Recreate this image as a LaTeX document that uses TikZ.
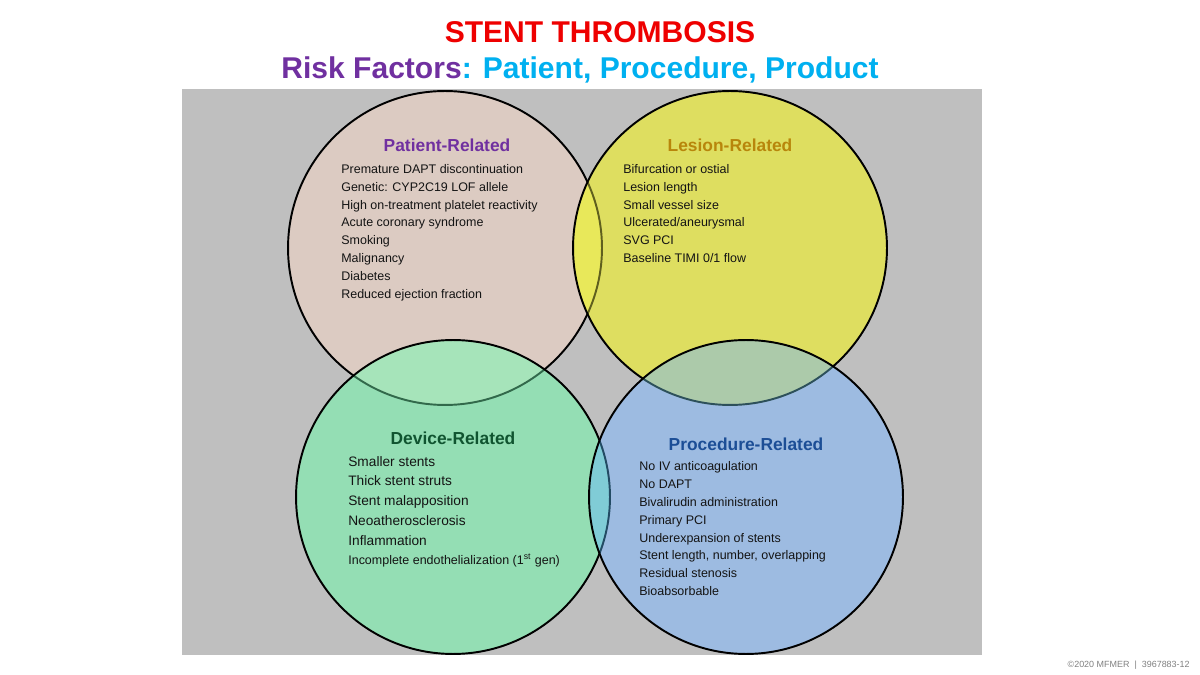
\documentclass[tikz,border=0pt]{standalone}
\usepackage{fontspec}
\setmainfont{Liberation Sans}
\usepackage{xcolor}
\definecolor{bgray}{RGB}{191,191,191}
\definecolor{patfill}{RGB}{220,203,194}
\definecolor{lesfill}{RGB}{222,222,96}
\definecolor{devfill}{RGB}{148,222,180}
\definecolor{profill}{RGB}{157,187,225}
\definecolor{patles}{RGB}{232,232,90}
\definecolor{patdev}{RGB}{166,228,186}
\definecolor{lespro}{RGB}{172,202,170}
\definecolor{devpro}{RGB}{128,204,214}
\definecolor{dimolive}{RGB}{95,95,30}
\definecolor{dimgreen}{RGB}{50,105,75}
\definecolor{dimteal}{RGB}{45,80,90}
\definecolor{dimblue}{RGB}{35,75,100}
\definecolor{titlered}{RGB}{238,0,0}
\definecolor{riskpurple}{RGB}{112,48,160}
\definecolor{cyanblue}{RGB}{0,176,240}
\definecolor{lesgold}{RGB}{184,134,11}
\definecolor{devgreen}{RGB}{16,84,48}
\definecolor{problue}{RGB}{28,78,150}
\definecolor{txt}{RGB}{20,20,20}
\usepackage{tikz}
\usetikzlibrary{positioning}

\begin{document}
\begin{tikzpicture}[x=0.02cm, y=-0.02cm,
    every circle/.style={radius=3.14cm},
    outline/.style={line width=1.1pt},
    heading/.style={anchor=base, inner sep=0pt, font=\fontsize{9.9}{12}\selectfont\bfseries},
    item/.style={anchor=base west, inner sep=0pt, text=txt, font=\fontsize{7.1}{8.5}\selectfont},
    bigitem/.style={item, font=\fontsize{7.8}{9.5}\selectfont}]
        \useasboundingbox (0,0) rectangle (1200,675);

        % Titles
        \node[anchor=base, text=titlered, font=\fontsize{17.1}{20}\selectfont\bfseries] (title) at (600,43) {STENT THROMBOSIS};
        \node[anchor=base, text=cyanblue, font=\fontsize{17.1}{20}\selectfont\bfseries] (subtitle) at (580,79)
            {\textcolor{riskpurple}{Risk Factors}: Patient, Procedure, Product};

        % Background panel
        \fill[bgray] (182,89) rectangle (982,655);

        % Circle centres
        \coordinate (pat) at (445,248);
        \coordinate (les) at (730,248);
        \coordinate (dev) at (453,497);
        \coordinate (pro) at (746,497);

        % Patient circle
        \fill[patfill] (pat) circle;
        \draw[outline] (pat) circle;

        % Lesion circle, over patient
        \fill[lesfill] (les) circle;
        \begin{scope}
            \clip (pat) circle;
            \fill[patles] (les) circle;
        \end{scope}
        \begin{scope}
            \clip (les) circle;
            \draw[outline, dimolive] (pat) circle;
        \end{scope}
        \draw[outline] (les) circle;

        % Device circle, over patient
        \fill[devfill] (dev) circle;
        \begin{scope}
            \clip (pat) circle;
            \fill[patdev] (dev) circle;
        \end{scope}
        \begin{scope}
            \clip (dev) circle;
            \draw[outline, dimgreen] (pat) circle;
        \end{scope}
        \draw[outline] (dev) circle;

        % Procedure circle, over lesion and device
        \fill[profill] (pro) circle;
        \begin{scope}
            \clip (les) circle;
            \fill[lespro] (pro) circle;
        \end{scope}
        \begin{scope}
            \clip (dev) circle;
            \fill[devpro] (pro) circle;
        \end{scope}
        \begin{scope}
            \clip (pro) circle;
            \draw[outline, dimteal] (les) circle;
            \draw[outline, dimblue] (dev) circle;
        \end{scope}
        \draw[outline] (pro) circle;

        % Patient-related
        \node[heading, text=riskpurple] (pathead) at (447,152) {Patient-Related};
        \foreach \t [count=\i] in {Premature DAPT discontinuation, Genetic: CYP2C19 LOF allele,
            High on-treatment platelet reactivity, Acute coronary syndrome, Smoking,
            Malignancy, Diabetes, Reduced ejection fraction}
            \node[item] (pat\i) at (341,{173.3+17.86*(\i-1)}) {\t};

        % Lesion-related
        \node[heading, text=lesgold] (leshead) at (730,152) {Lesion-Related};
        \foreach \t [count=\i] in {Bifurcation or ostial, Lesion length, Small vessel size,
            Ulcerated/aneurysmal, SVG PCI, Baseline TIMI 0/1 flow}
            \node[item] (les\i) at (623,{173.3+17.88*(\i-1)}) {\t};

        % Device-related
        \node[heading, text=devgreen] (devhead) at (453,444) {Device-Related};
        \foreach \t [count=\i] in {Smaller stents, Thick stent struts, Stent malapposition,
            Neoatherosclerosis, Inflammation}
            \node[bigitem] (dev\i) at (348,{466+19.8*(\i-1)}) {\t};
        \node[item] (dev6) at (348,564.5) {Incomplete endothelialization (1\textsuperscript{st} gen)};

        % Procedure-related
        \node[heading, text=problue] (prohead) at (746,450) {Procedure-Related};
        \foreach \t [count=\i] in {No IV anticoagulation, No DAPT, Bivalirudin administration,
            Primary PCI, Underexpansion of stents, {Stent length, number, overlapping},
            Residual stenosis, Bioabsorbable}
            \node[item] (pro\i) at (639,{470.7+17.85*(\i-1)}) {\t};

        % Footer
        \node[anchor=base east, inner sep=0pt, text=gray, font=\fontsize{5.1}{6}\selectfont] (footer) at (1190,667)
            {\textcopyright2020 MFMER \ | \ 3967883-12};
    \end{tikzpicture}
\end{document}
